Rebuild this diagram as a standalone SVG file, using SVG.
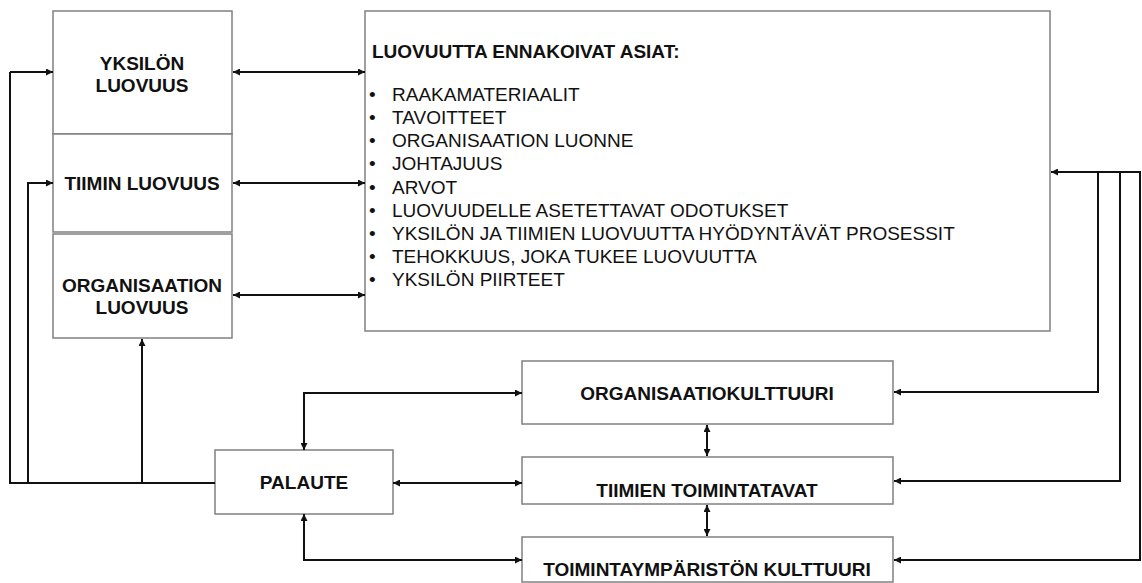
<svg xmlns="http://www.w3.org/2000/svg" width="1142" height="583" viewBox="0 0 1142 583">
  <defs>
    <marker id="arrow" viewBox="0 0 10 10" refX="10" refY="5" markerWidth="7" markerHeight="7" markerUnits="userSpaceOnUse" orient="auto-start-reverse">
      <path d="M0,0 L10,5 L0,10 z" fill="#111"/>
    </marker>
  </defs>
  <style>
    .box { fill: #fff; stroke: #808080; stroke-width: 1.5; }
    .lbl { font-family: "Liberation Sans", Arial, sans-serif; font-weight: bold; font-size: 19px; fill: #111; text-anchor: middle; }
    .item { font-family: "Liberation Sans", Arial, sans-serif; font-size: 19px; fill: #111; }
    .conn { fill: none; stroke: #111; stroke-width: 2; }
    .end { marker-end: url(#arrow); }
    .both { marker-start: url(#arrow); marker-end: url(#arrow); }
  </style>
  <rect width="1142" height="583" fill="#fff"/>

  <!-- creativity levels -->
  <g id="yksilon-luovuus">
    <rect class="box" x="53" y="11" width="179" height="123"/>
    <text class="lbl" x="142" y="70">YKSILÖN</text>
    <text class="lbl" x="142" y="92">LUOVUUS</text>
  </g>
  <g id="tiimin-luovuus">
    <rect class="box" x="53" y="134" width="179" height="98"/>
    <text class="lbl" x="142" y="190">TIIMIN LUOVUUS</text>
  </g>
  <g id="organisaation-luovuus">
    <rect class="box" x="53" y="234" width="179" height="104"/>
    <text class="lbl" x="142" y="292">ORGANISAATION</text>
    <text class="lbl" x="142" y="314">LUOVUUS</text>
  </g>

  <!-- antecedents list -->
  <g id="ennakoivat-asiat">
    <rect class="box" x="365" y="11" width="685" height="320"/>
    <text class="lbl" x="372" y="58" style="text-anchor:start">LUOVUUTTA ENNAKOIVAT ASIAT:</text>
    <g class="item">
      <text x="369" y="101">•</text><text x="392" y="101">RAAKAMATERIAALIT</text>
      <text x="369" y="124">•</text><text x="392" y="124">TAVOITTEET</text>
      <text x="369" y="147">•</text><text x="392" y="147">ORGANISAATION LUONNE</text>
      <text x="369" y="170">•</text><text x="392" y="170">JOHTAJUUS</text>
      <text x="369" y="194">•</text><text x="392" y="194">ARVOT</text>
      <text x="369" y="217">•</text><text x="392" y="217">LUOVUUDELLE ASETETTAVAT ODOTUKSET</text>
      <text x="369" y="240">•</text><text x="392" y="240">YKSILÖN JA TIIMIEN LUOVUUTTA HYÖDYNTÄVÄT PROSESSIT</text>
      <text x="369" y="263">•</text><text x="392" y="263">TEHOKKUUS, JOKA TUKEE LUOVUUTTA</text>
      <text x="369" y="286">•</text><text x="392" y="286">YKSILÖN PIIRTEET</text>
    </g>
  </g>

  <!-- context -->
  <g id="organisaatiokulttuuri">
    <rect class="box" x="522" y="361" width="371" height="63"/>
    <text class="lbl" x="707" y="400">ORGANISAATIOKULTTUURI</text>
  </g>
  <g id="tiimien-toimintatavat">
    <rect class="box" x="522" y="457" width="371" height="47"/>
    <text class="lbl" x="707" y="497">TIIMIEN TOIMINTATAVAT</text>
  </g>
  <g id="toimintaympariston-kulttuuri">
    <rect class="box" x="522" y="537" width="371" height="45"/>
    <text class="lbl" x="707" y="576">TOIMINTAYMPÄRISTÖN KULTTUURI</text>
  </g>
  <g id="palaute">
    <rect class="box" x="215" y="450" width="178" height="64"/>
    <text class="lbl" x="304" y="489">PALAUTE</text>
  </g>

  <g id="connectors">
    <!-- levels <-> antecedents -->
    <line class="conn both" x1="233" y1="72" x2="365" y2="72"/>
    <line class="conn both" x1="233" y1="183" x2="365" y2="183"/>
    <line class="conn both" x1="233" y1="295" x2="365" y2="295"/>

    <!-- feedback loops on the left -->
    <polyline class="conn" points="215,483 10,483 10,72"/>
    <line class="conn end" x1="10" y1="72" x2="53" y2="72"/>
    <polyline class="conn end" points="28,483 28,183 53,183"/>
    <line class="conn end" x1="142" y1="483" x2="142" y2="339"/>

    <!-- feedback <-> context -->
    <polyline class="conn both" points="304,450 304,393 522,393"/>
    <line class="conn both" x1="393" y1="483" x2="522" y2="483"/>
    <polyline class="conn both" points="304,514 304,560 522,560"/>

    <!-- between context boxes -->
    <line class="conn both" x1="707" y1="425" x2="707" y2="456"/>
    <line class="conn both" x1="707" y1="505" x2="707" y2="536"/>

    <!-- right-hand return paths -->
    <line class="conn end" x1="1141" y1="172" x2="1051" y2="172"/>
    <polyline class="conn end" points="1098,172 1098,392 894,392"/>
    <polyline class="conn end" points="1120,172 1120,481 894,481"/>
    <polyline class="conn end" points="1140,172 1140,560 894,560"/>
  </g>
</svg>
